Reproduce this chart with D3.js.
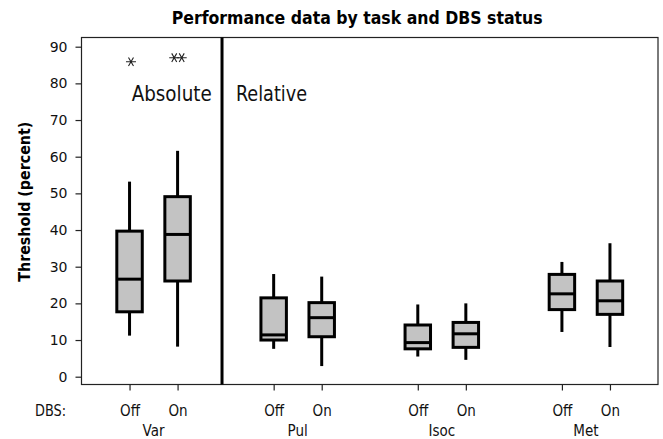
<!DOCTYPE html>
<html><head><meta charset="utf-8">
<script src="https://cdn.jsdelivr.net/npm/d3@7"></script>
<style>body{margin:0;background:#fff}svg{display:block}text{font-family:"DejaVu Sans",sans-serif}</style>
</head><body>
<svg id="c" width="663" height="439"></svg>
<script>
const tasks = ["Var","Pul","Isoc","Met"];
const dbs = ["Off","On"];
const slots = [1,2,4,5,7,8,10,11];
const whiskLow  = [11.2, 8.2, 7.6, 2.9, 5.5, 4.6, 12.2, 8.1];
const q1        = [17.7, 26.1, 10.0, 10.9, 7.6, 8.0, 18.3, 17.0];
const medians   = [26.6, 38.8, 11.4, 16.1, 9.3, 11.7, 22.6, 20.7];
const q3        = [39.7, 49.1, 21.5, 20.2, 14.1, 14.8, 27.9, 26.1];
const whiskHigh = [53.2, 61.6, 28.0, 27.3, 19.7, 20.0, 31.3, 36.4];
const outlierX = [1.03, 1.93, 2.086];
const outlierY = [85.9, 87.0, 87.0];
const yTicks = [0,10,20,30,40,50,60,70,80,90];
const separatorX = 2.925;

const FONT = "'DejaVu Sans'";
const svg = d3.select("#c");
const x = d3.scaleLinear().domain([0,12]).range([81.5,658]);
const y = d3.scaleLinear().domain([0,90]).range([376.7,46.7]);
const yTop = y.invert(37.5), yBot = y.invert(384.5);

// frame
svg.append("rect").attr("x",x(0)).attr("y",y(yTop)).attr("width",x(12)-x(0)).attr("height",y(yBot)-y(yTop))
  .attr("fill","none").attr("stroke","#222").attr("stroke-width",1.2);

// y axis
const yAxis = svg.append("g").attr("transform",`translate(${x(0)},0)`)
  .call(d3.axisLeft(y).tickValues(yTicks).tickSize(6).tickPadding(8));
yAxis.select(".domain").remove();
yAxis.selectAll("line").attr("stroke","#222").attr("stroke-width",1.2);
yAxis.selectAll("text").attr("font-size",14).attr("fill","#111").style("font-family",FONT);

// x axis
const xAxis = svg.append("g").attr("transform",`translate(0,${y(yBot)})`)
  .call(d3.axisBottom(x).tickValues(slots).tickSize(6).tickFormat((d,i)=>dbs[i%2]));
xAxis.select(".domain").remove();
xAxis.selectAll("line").attr("stroke","#222").attr("stroke-width",1.2);
xAxis.selectAll("text").attr("font-size",15).attr("fill","#111").attr("y",31.5).attr("dy",null)
  .style("font-family","'DejaVu Sans Condensed'");

// group labels
svg.selectAll("text.grp").data(tasks).join("text").attr("class","grp")
  .attr("x",(d,i)=>(x(slots[2*i])+x(slots[2*i+1]))/2).attr("y",435.7)
  .attr("text-anchor","middle").attr("font-size",15).attr("fill","#111")
  .style("font-family","'DejaVu Sans Condensed'").text(d=>d);
svg.append("text").attr("x",35).attr("y",416).attr("font-size",15).attr("fill","#111")
  .attr("textLength",31).attr("lengthAdjust","spacingAndGlyphs")
  .style("font-family","'DejaVu Sans Condensed'").text("DBS:");

// separator
svg.append("line").attr("x1",x(separatorX)).attr("x2",x(separatorX)).attr("y1",y(yTop)).attr("y2",y(yBot))
  .attr("stroke","#000").attr("stroke-width",3);

// boxes
const bw = x(0.53)-x(0);
const g = svg.append("g");
slots.forEach((s,i)=>{
  const cx = x(s);
  g.append("line").attr("x1",cx).attr("x2",cx).attr("y1",y(whiskHigh[i])).attr("y2",y(q3[i])).attr("stroke","#000").attr("stroke-width",3);
  g.append("line").attr("x1",cx).attr("x2",cx).attr("y1",y(q1[i])).attr("y2",y(whiskLow[i])).attr("stroke","#000").attr("stroke-width",3);
  g.append("rect").attr("x",cx-bw/2).attr("width",bw).attr("y",y(q3[i])).attr("height",y(q1[i])-y(q3[i]))
    .attr("fill","#c3c3c3").attr("stroke","#000").attr("stroke-width",3);
  g.append("line").attr("x1",cx-bw/2).attr("x2",cx+bw/2).attr("y1",y(medians[i])).attr("y2",y(medians[i])).attr("stroke","#000").attr("stroke-width",3);
});

// outliers (asterisks)
const star = d3.symbol().type(d3.symbolAsterisk).size(70);
outlierX.forEach((ox,i)=>{
  svg.append("path").attr("d",star()).attr("transform",`translate(${x(ox)},${y(outlierY[i])}) rotate(90)`)
    .attr("fill","none").attr("stroke","#222").attr("stroke-width",1.1);
});

// annotations
svg.append("text").attr("x",131.7).attr("y",101).attr("font-size",22).attr("fill","#111")
  .attr("textLength",80).attr("lengthAdjust","spacingAndGlyphs")
  .style("font-family","'DejaVu Sans Condensed'").text("Absolute");
svg.append("text").attr("x",236).attr("y",101).attr("font-size",22).attr("fill","#111")
  .attr("textLength",71).attr("lengthAdjust","spacingAndGlyphs")
  .style("font-family","'DejaVu Sans Condensed'").text("Relative");

// title
svg.append("text").attr("x",171.7).attr("y",24).attr("font-size",17).attr("font-weight","bold").attr("fill","#000")
  .attr("textLength",371).attr("lengthAdjust","spacingAndGlyphs")
  .text("Performance data by task and DBS status");

// y label
svg.append("text").attr("transform",`translate(30,201.7) rotate(-90)`).attr("text-anchor","middle")
  .attr("font-size",15).attr("font-weight","bold").attr("fill","#000")
  .attr("textLength",160).attr("lengthAdjust","spacingAndGlyphs")
  .text("Threshold (percent)");
</script>
</body></html>
